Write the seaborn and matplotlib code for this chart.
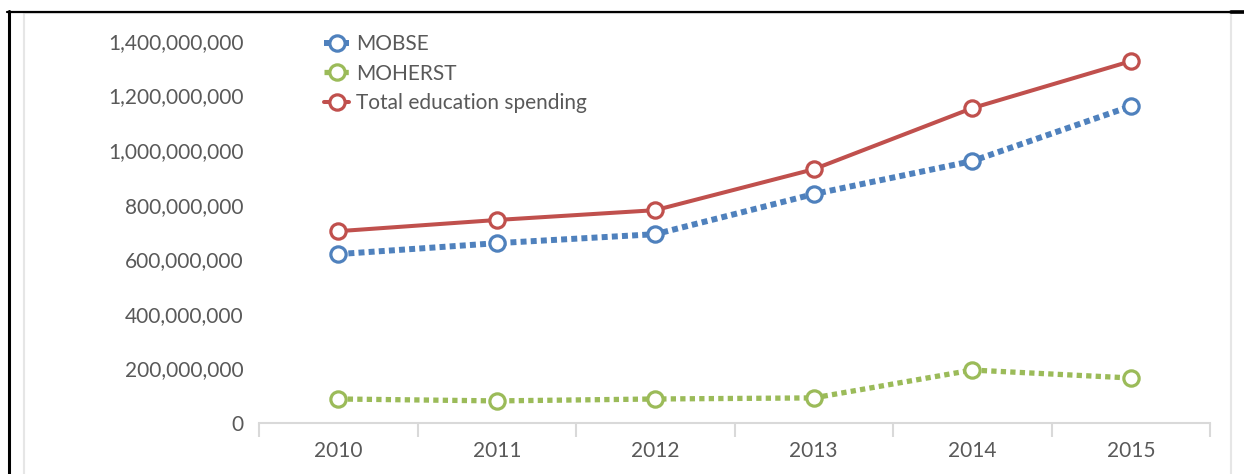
import matplotlib
matplotlib.use("Agg")
import matplotlib.pyplot as plt
from matplotlib.lines import Line2D
from matplotlib.patches import Rectangle
from matplotlib.ticker import FuncFormatter, FixedLocator
import seaborn as sns
import pandas as pd

# Education spending by year
years = ["2010", "2011", "2012", "2013", "2014", "2015"]
mobse = [619e6, 659e6, 692e6, 839e6, 960e6, 1161e6]
moherst = [88e6, 81e6, 88e6, 92e6, 194e6, 165e6]
total = [703e6, 744e6, 780e6, 930e6, 1154e6, 1326e6]

series_names = ["MOBSE", "MOHERST", "Total education spending"]
series_values = [mobse, moherst, total]
series_colors = ["#4F81BD", "#9BBB59", "#C0504D"]
series_widths = [4.3, 3.8, 2.9]
series_styles = [(0, (1, 0.7)), (0, (1, 0.8)), "-"]

sns.set_theme(style="white")
plt.rcParams["font.family"] = ["Lato", "DejaVu Sans"]

W, H, DPI = 1244, 474, 100
fig = plt.figure(figsize=(W / DPI, H / DPI), dpi=DPI)
fig.patch.set_facecolor("white")

ax = fig.add_axes([259 / W, 1 - 423 / H, (1210 - 259) / W, (423 - 41) / H])
ax.set_facecolor("none")

x_pos = list(range(len(years)))
for name, vals, col, lw, ls in zip(series_names, series_values, series_colors,
                                   series_widths, series_styles):
    df = pd.DataFrame({"x": x_pos, "value": vals})
    sns.lineplot(data=df, x="x", y="value", ax=ax, color=col, linewidth=lw,
                 linestyle=ls, marker="o", markersize=11, markeredgewidth=2.3,
                 markerfacecolor="white", markeredgecolor=col, label=name,
                 clip_on=False, zorder=3)

ax.set_xlim(-0.5, len(years) - 0.5)
ax.set_ylim(0, 1.4e9)
ax.set_xlabel("")
ax.set_ylabel("")

# category axis: tick marks between categories, labels at centres
ax.xaxis.set_major_locator(FixedLocator([i - 0.5 for i in range(len(years) + 1)]))
ax.xaxis.set_minor_locator(FixedLocator(x_pos))
ax.set_xticklabels([], minor=False)
ax.set_xticklabels(years, minor=True)
ax.tick_params(axis="x", which="major", length=10, width=1.5, color="#D9D9D9",
               direction="out", bottom=True)
ax.tick_params(axis="x", which="minor", length=0, pad=13, labelsize=15,
               labelcolor="#595959", bottom=True)

ax.set_yticks([i * 2e8 for i in range(8)])
ax.yaxis.set_major_formatter(FuncFormatter(lambda v, p: f"{int(round(v)):,}"))
ax.tick_params(axis="y", length=0, pad=11, labelsize=15, labelcolor="#595959")

for side in ["left", "right", "top"]:
    ax.spines[side].set_visible(False)
ax.spines["bottom"].set_color("#D9D9D9")
ax.spines["bottom"].set_linewidth(1.5)

leg = ax.legend(loc="upper left", bbox_to_anchor=(324 / W, 1 - 34 / H),
                bbox_transform=fig.transFigure, frameon=False, fontsize=15,
                handlelength=1.2, handletextpad=0.35, labelspacing=0.46,
                borderaxespad=0, borderpad=0)
for t in leg.get_texts():
    t.set_color("#595959")

# chart frame and outer border lines
fig.add_artist(Rectangle((24 / W, -0.05), (1231 - 24) / W, 1.05 - 13 / H,
                         transform=fig.transFigure, fill=False,
                         edgecolor="#E6E6E6", linewidth=1.5))
fig.add_artist(Line2D([7 / W, 1.0], [1 - 11.5 / H, 1 - 11.5 / H],
                      transform=fig.transFigure, color="black", linewidth=1.6))
fig.add_artist(Line2D([1231 / W, 1.0], [1 - 12 / H, 1 - 12 / H],
                      transform=fig.transFigure, color="black", linewidth=2.6))
fig.add_artist(Line2D([8.5 / W, 8.5 / W], [1 - 11 / H, 0],
                      transform=fig.transFigure, color="black", linewidth=2.2))

fig.savefig("out.png", dpi=DPI, facecolor="white")
